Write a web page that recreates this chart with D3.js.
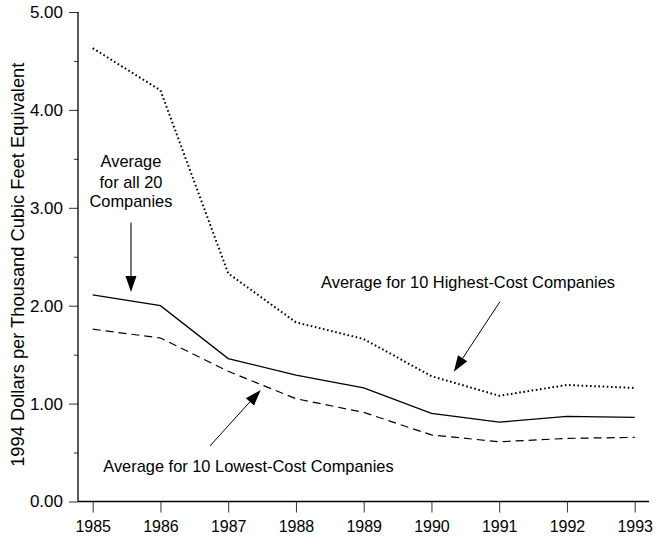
<!DOCTYPE html>
<html><head><meta charset="utf-8">
<script src="https://cdn.jsdelivr.net/npm/d3@7"></script>
<style>
html,body{margin:0;padding:0;background:#fff;}
svg text{font-family:"Liberation Sans",Arial,Helvetica,sans-serif;fill:#000;}
</style></head>
<body>
<svg id="c" width="656" height="541"></svg>
<script>
const years = [1985,1986,1987,1988,1989,1990,1991,1992,1993];
const allCompanies = [2.11,2.00,1.46,1.29,1.16,0.90,0.81,0.87,0.86];
const highestCost = [4.63,4.20,2.33,1.83,1.66,1.28,1.08,1.19,1.16];
const lowestCost  = [1.76,1.67,1.33,1.05,0.91,0.68,0.61,0.645,0.655];
const yTickValues = [0,1,2,3,4,5];
const yMinorTicks = [0.5,1.5,2.5,3.5,4.5];
const yTitle = "1994 Dollars per Thousand Cubic Feet Equivalent";
const notes = [
  {lines:["Average","for all 20","Companies"], tx:1985.565, ty:[3.42,3.20,3.01], anchor:"middle",
   from:[1985.565,2.85], to:[1985.565,2.14], arrowColor:"#555"},
  {lines:["Average for 10 Highest-Cost Companies"], tx:1990.54, ty:[2.178], anchor:"middle",
   from:[1991.01,2.04], to:[1990.33,1.326], arrowColor:"#000"},
  {lines:["Average for 10 Lowest-Cost Companies"], tx:1985.156, ty:[0.304], anchor:"start",
   from:[1986.73,0.567], to:[1987.48,1.139], arrowColor:"#000"}
];

const svg = d3.select("#c");
const x = d3.scaleLinear().domain([1985,1993]).range([92.7,634.7]);
const y = d3.scaleLinear().domain([0,5]).range([501.5,12]);
const axisX = 78, axisRight = 649;

// Y axis
const ya = svg.append("g").attr("transform",`translate(${axisX},0)`)
  .call(d3.axisLeft(y).tickValues(yTickValues).tickSize(9).tickSizeOuter(0).tickPadding(6).tickFormat(d3.format(".2f")));
ya.selectAll("text").style("font-size","17px");
ya.select(".domain").remove();
svg.append("g").attr("transform",`translate(${axisX},0)`)
  .call(d3.axisLeft(y).tickValues(yMinorTicks).tickSize(4).tickFormat(""))
  .select(".domain").remove();
svg.append("line").attr("x1",axisX).attr("x2",axisX).attr("y1",y(5)).attr("y2",y(0))
  .attr("stroke","#000").attr("stroke-width",1.3);

// X axis
const xa = svg.append("g").attr("transform",`translate(0,${y(0)})`)
  .call(d3.axisBottom(x).tickValues(years).tickSize(11).tickPadding(8).tickFormat(d3.format("d")));
xa.selectAll("text").style("font-size","16px");
xa.select(".domain").remove();
svg.append("line").attr("x1",axisX).attr("x2",axisRight).attr("y1",y(0)).attr("y2",y(0))
  .attr("stroke","#000").attr("stroke-width",1.3);
svg.selectAll(".tick line").attr("stroke","#333");

// Y title
svg.append("text").attr("transform",`translate(24,${(y(5)+y(0))/2+8}) rotate(-90)`)
  .attr("text-anchor","middle").style("font-size","18.3px").text(yTitle);

// Lines
const line = d3.line().x((d,i)=>x(years[i])).y(d=>y(d));
svg.append("path").datum(highestCost).attr("d",line).attr("fill","none")
  .attr("stroke","#000").attr("stroke-width",2).attr("stroke-dasharray","1.6,2.6");
svg.append("path").datum(allCompanies).attr("d",line).attr("fill","none")
  .attr("stroke","#000").attr("stroke-width",1.3);
svg.append("path").datum(lowestCost).attr("d",line).attr("fill","none")
  .attr("stroke","#000").attr("stroke-width",1.2).attr("stroke-dasharray","8,5");

// Annotations
notes.forEach(n=>{
  n.lines.forEach((t,i)=>{
    svg.append("text").attr("x",x(n.tx)).attr("y",y(n.ty[i])).attr("text-anchor",n.anchor)
      .style("font-size","16.4px").text(t);
  });
  const x1=x(n.from[0]), y1=y(n.from[1]), x2=x(n.to[0]), y2=y(n.to[1]);
  const dx=x2-x1, dy=y2-y1, L=Math.hypot(dx,dy), ux=dx/L, uy=dy/L;
  const hl=16, hw=5.5;
  const bx=x2-ux*hl, by=y2-uy*hl;
  svg.append("line").attr("x1",x1).attr("y1",y1).attr("x2",bx).attr("y2",by)
    .attr("stroke",n.arrowColor).attr("stroke-width",n.arrowColor==="#000"?1:1.6);
  svg.append("polygon").attr("points",[[x2,y2],[bx-uy*hw,by+ux*hw],[bx+uy*hw,by-ux*hw]].map(p=>p.join(",")).join(" "))
    .attr("fill","#000");
});
</script>
</body></html>
